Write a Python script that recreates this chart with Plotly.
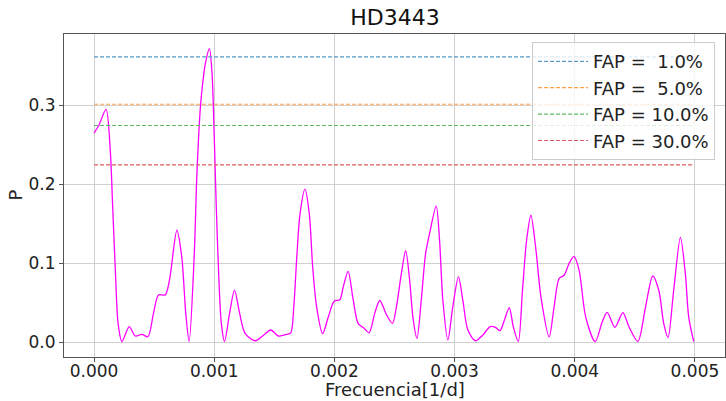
import plotly.graph_objects as go

freq = [0.0, 0.00004, 0.0001, 0.000135, 0.000155, 0.000178, 0.0002, 0.000232,
        0.000293, 0.000343, 0.000398, 0.000448, 0.000495, 0.000536, 0.000592,
        0.000628, 0.000689, 0.00073, 0.000763, 0.000791, 0.000833, 0.000856,
        0.000885, 0.000907, 0.000925, 0.00096, 0.000982, 0.001001, 0.001017,
        0.001037, 0.001059, 0.001086, 0.001128, 0.001169, 0.001211, 0.001258,
        0.001341, 0.00141, 0.001471, 0.001534, 0.001603, 0.001637, 0.001662,
        0.001687, 0.001714, 0.001755, 0.001791, 0.001819, 0.001852, 0.001902,
        0.001949, 0.001998, 0.002046, 0.002073, 0.002114, 0.002156, 0.002197,
        0.002245, 0.002289, 0.002336, 0.002377, 0.002433, 0.002483, 0.002516,
        0.002557, 0.002593, 0.002626, 0.002653, 0.002687, 0.002723, 0.002759,
        0.002792, 0.002847, 0.002875, 0.002902, 0.002944, 0.002985, 0.003032,
        0.003068, 0.00311, 0.003173, 0.003234, 0.003296, 0.00334, 0.003378,
        0.003414, 0.003455, 0.003488, 0.00353, 0.003565, 0.003599, 0.003635,
        0.003677, 0.003718, 0.003787, 0.003828, 0.00387, 0.003911, 0.003953,
        0.003994, 0.004036, 0.004091, 0.00417, 0.004229, 0.00427, 0.004334,
        0.0044, 0.00445, 0.004525, 0.004589, 0.004649, 0.004699, 0.00474,
        0.004776, 0.004823, 0.004879, 0.00492, 0.004948, 0.00499]
power = [0.265, 0.275, 0.295, 0.243, 0.172, 0.088, 0.024, 0.001,
         0.020, 0.008, 0.010, 0.007, 0.037, 0.060, 0.060,
         0.079, 0.142, 0.108, 0.037, 0.001, 0.108, 0.214,
         0.298, 0.332, 0.352, 0.372, 0.340, 0.256, 0.172,
         0.087, 0.024, 0.001, 0.037, 0.066, 0.037, 0.011,
         0.002, 0.009, 0.0156, 0.008, 0.010, 0.012, 0.045,
         0.108, 0.163, 0.194, 0.163, 0.096, 0.045, 0.011,
         0.032, 0.052, 0.054, 0.070, 0.090, 0.054, 0.024,
         0.018, 0.012, 0.037, 0.053, 0.035, 0.024, 0.045,
         0.087, 0.116, 0.079, 0.032, 0.005, 0.054, 0.113,
         0.138, 0.1725, 0.129, 0.054, 0.003, 0.045, 0.083,
         0.054, 0.016, 0.002, 0.009, 0.020, 0.019, 0.0147,
         0.028, 0.044, 0.020, 0.001, 0.066, 0.129, 0.161,
         0.117, 0.058, 0.007, 0.045, 0.081, 0.085, 0.100,
         0.109, 0.0915, 0.032, 0.001, 0.026, 0.038, 0.019,
         0.0375, 0.020, 0.001, 0.045, 0.084, 0.066, 0.024,
         0.006, 0.066, 0.133, 0.087, 0.032, 0.001]

x_ticks = [0, 0.001, 0.002, 0.003, 0.004, 0.005]
y_ticks = [0.0, 0.1, 0.2, 0.3]

fap_labels = ["FAP = \u00a01.0%", "FAP = \u00a05.0%", "FAP = 10.0%", "FAP = 30.0%"]
fap_levels = [0.3615, 0.3016, 0.2747, 0.2248]
fap_colors = ["#5799c7", "#ff9f4a", "#61b861", "#e05d5e"]

FONT = "DejaVu Sans"
fig = go.Figure()
fig.add_trace(go.Scatter(x=freq, y=power, mode="lines", showlegend=False,
                         line=dict(color="#ff00ff", width=1.3, shape="spline", smoothing=0.8)))
for lab, lev, col in zip(fap_labels, fap_levels, fap_colors):
    fig.add_trace(go.Scatter(x=[freq[0], freq[-1]], y=[lev, lev], mode="lines", name=lab,
                             line=dict(color=col, width=1.2, dash="4px,2px")))

axis_common = dict(showgrid=True, gridcolor="#d0d0d0", gridwidth=1, zeroline=False,
                   showline=True, linecolor="#555555", linewidth=1, mirror=True,
                   ticks="outside", ticklen=4, tickcolor="#555555", automargin=False,
                   tickfont=dict(family=FONT, size=17, color="#222"))
fig.update_layout(
    width=726, height=401,
    margin=dict(l=64, r=1, t=34, b=44),
    paper_bgcolor="white", plot_bgcolor="white",
    title=dict(text="HD3443", x=0.544, xanchor="center", y=0.975, yanchor="top",
               font=dict(family=FONT, size=22, color="#111")),
    xaxis=dict(range=[-0.00025, 0.00525], tickvals=x_ticks, tickformat=".3f",
               ticklabelstandoff=-5, **axis_common),
    yaxis=dict(range=[-0.0186, 0.3906], tickvals=y_ticks, tickformat=".1f", **axis_common),
    legend=dict(x=0.985, xanchor="right", y=0.975, yanchor="top", itemwidth=50,
                bgcolor="rgba(255,255,255,0.8)", bordercolor="#cccccc", borderwidth=1,
                font=dict(family=FONT, size=18, color="#222")),
    annotations=[
        dict(text="Frecuencia[1/d]", xref="paper", yref="paper", x=0.5, y=-0.1,
             xanchor="center", yanchor="middle", showarrow=False,
             font=dict(family=FONT, size=18, color="#222")),
        dict(text="P", xref="paper", yref="paper", x=-0.074, y=0.5, textangle=-90,
             xanchor="center", yanchor="middle", showarrow=False,
             font=dict(family=FONT, size=18, color="#222")),
    ],
)
fig.write_html("out.html")
